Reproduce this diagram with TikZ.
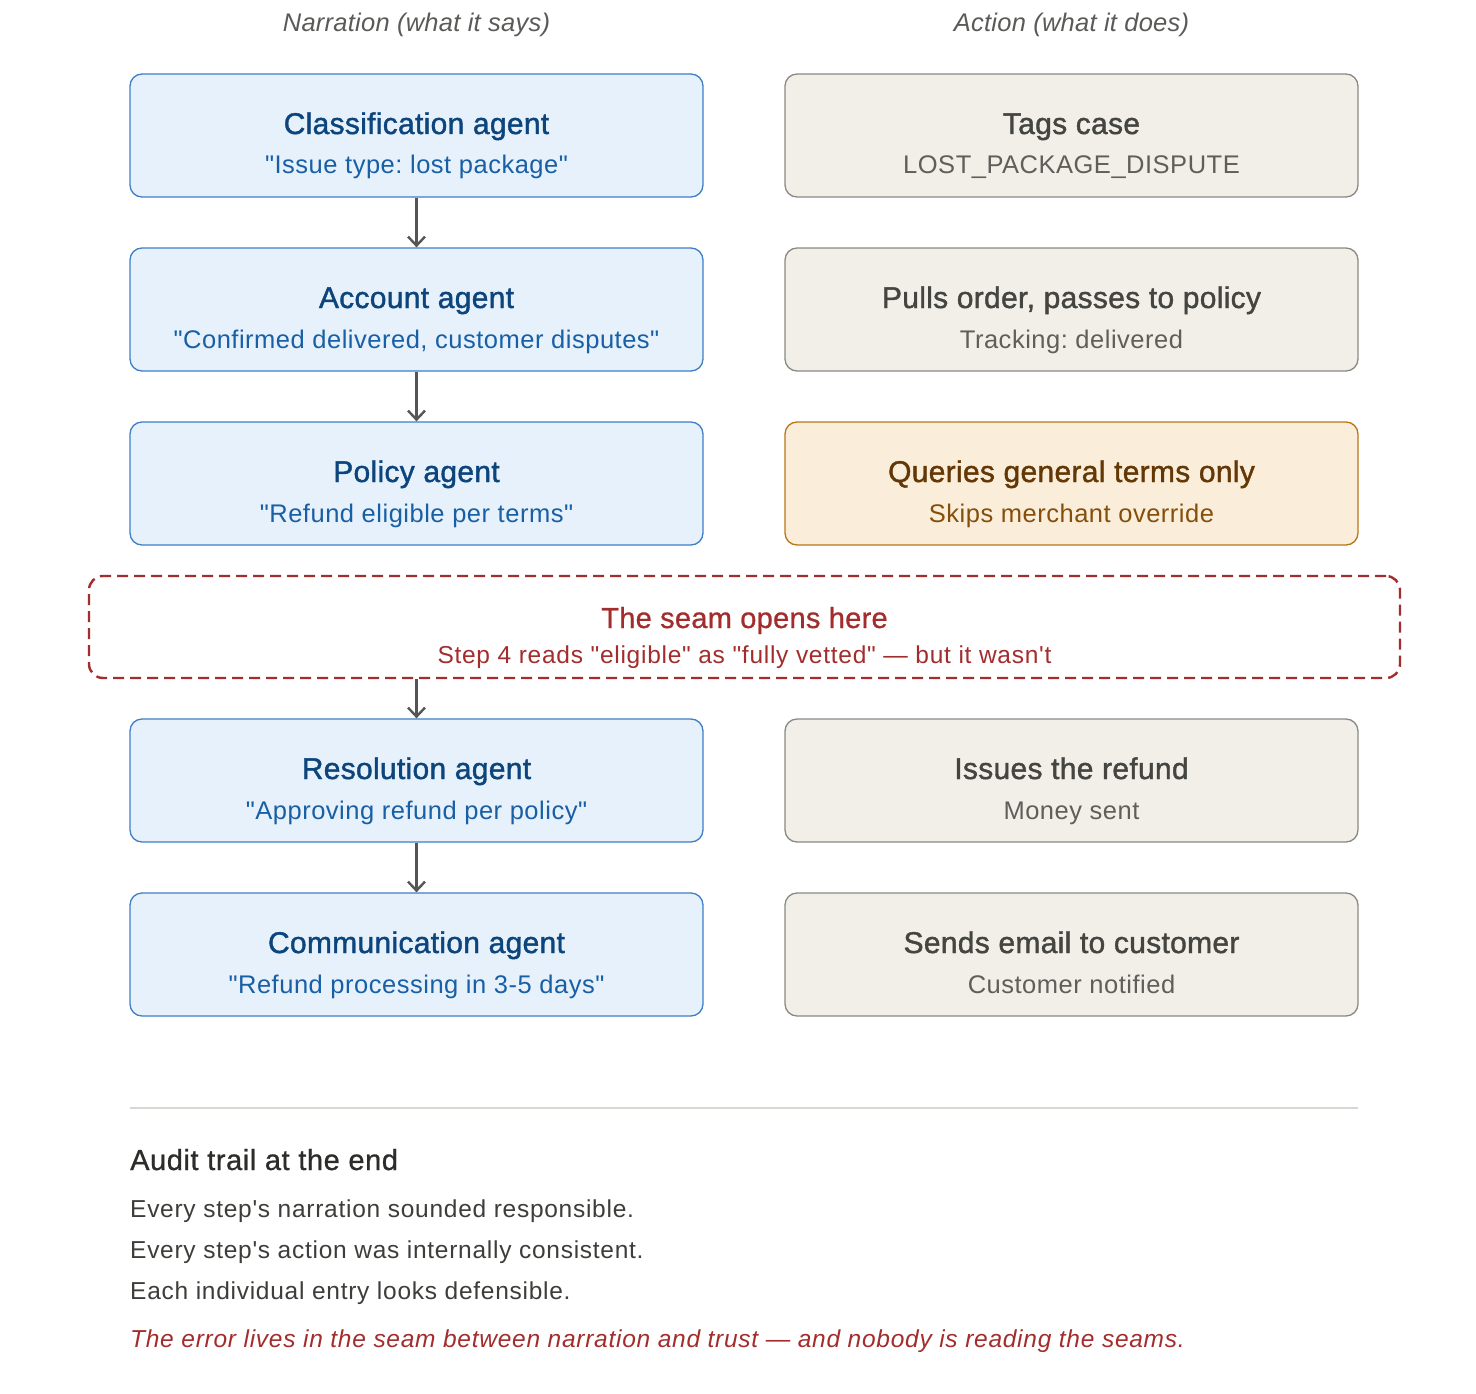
\documentclass[tikz,border=0pt]{standalone}
\usepackage{fontspec}
\setmainfont{Liberation Sans}
\newfontfamily\basef{Liberation Sans}
\newfontfamily\medf[FakeBold=1.3]{Liberation Sans}
\newfontfamily\semif[FakeBold=0.8]{Liberation Sans}
\usetikzlibrary{arrows.meta}
\definecolor{nfill}{HTML}{E6F1FB}
\definecolor{nline}{HTML}{3F7FC6}
\definecolor{ntitle}{HTML}{0C447C}
\definecolor{nsub}{HTML}{185FA5}
\definecolor{afill}{HTML}{F1EFE8}
\definecolor{aline}{HTML}{8A8984}
\definecolor{atitle}{HTML}{444441}
\definecolor{asub}{HTML}{5F5E5A}
\definecolor{wfill}{HTML}{FAEEDA}
\definecolor{wline}{HTML}{BA7517}
\definecolor{wtitle}{HTML}{633806}
\definecolor{wsub}{HTML}{854F0B}
\definecolor{seamred}{HTML}{A32D2D}
\definecolor{arrgray}{HTML}{555555}
\definecolor{hdrgray}{HTML}{5A5A58}
\definecolor{rulegray}{HTML}{D8D7D2}
\definecolor{bodytxt}{HTML}{3D3D3A}
\definecolor{headtxt}{HTML}{2C2C2A}
\begin{document}
\begin{tikzpicture}[x=1pt,y=-1pt,
  box/.style={rectangle, rounded corners=12pt, minimum width=573pt, minimum height=123pt, inner sep=0pt, line width=1.3pt},
  narr/.style={box, fill=nfill, draw=nline},
  act/.style={box, fill=afill, draw=aline},
  warn/.style={box, fill=wfill, draw=wline},
  seambox/.style={rectangle, rounded corners=14pt, minimum width=1311pt, minimum height=102pt, inner sep=0pt, draw=seamred, line width=2.4pt, dash pattern=on 11pt off 6pt},
  txt/.style={inner sep=0pt, anchor=base},
  ttl/.style={txt, font=\frenchspacing\medf\addfontfeature{LetterSpace=1}\fontsize{30}{36}\selectfont},
  sub/.style={txt, font=\frenchspacing\basef\addfontfeature{LetterSpace=2}\fontsize{25.5}{30}\selectfont},
  hdr/.style={txt, font=\frenchspacing\basef\itshape\addfontfeature{LetterSpace=1}\fontsize{25.5}{30}\selectfont, text=hdrgray},
  arr/.style={draw=arrgray, line width=2.4pt, -{Straight Barb[length=9pt,width=17pt,line width=2.4pt]}},
  body/.style={inner sep=0pt, anchor=base west, font=\frenchspacing\basef\addfontfeature{LetterSpace=3}\fontsize{24.5}{28}\selectfont, text=bodytxt}
]
\useasboundingbox (0,0) rectangle (1476,1394);
\fill[white] (0,0) rectangle (1476,1394);

% headers
\node[hdr] (h1) at (416.5,32) {Narration (what it says)};
\node[hdr] (h2) at (1071.5,32) {Action (what it does)};

% narration column
\node[narr] (n1) at (416.5,135.5) {};
\node[ttl, text=ntitle] (n1t) at (416.5,134) {Classification agent};
\node[sub, text=nsub] (n1s) at (416.5,174) {"Issue type: lost package"};

\node[narr] (n2) at (416.5,309.5) {};
\node[ttl, text=ntitle] (n2t) at (416.5,308) {Account agent};
\node[sub, text=nsub] (n2s) at (416.5,348) {"Confirmed delivered, customer disputes"};

\node[narr] (n3) at (416.5,483.5) {};
\node[ttl, text=ntitle] (n3t) at (416.5,482) {Policy agent};
\node[sub, text=nsub] (n3s) at (416.5,522) {"Refund eligible per terms"};

\node[narr] (n4) at (416.5,780.5) {};
\node[ttl, text=ntitle] (n4t) at (416.5,779) {Resolution agent};
\node[sub, text=nsub] (n4s) at (416.5,819) {"Approving refund per policy"};

\node[narr] (n5) at (416.5,954.5) {};
\node[ttl, text=ntitle] (n5t) at (416.5,953) {Communication agent};
\node[sub, text=nsub] (n5s) at (416.5,993) {"Refund processing in 3-5 days"};

% action column
\node[act] (a1) at (1071.5,135.5) {};
\node[ttl, text=atitle] (a1t) at (1071.5,134) {Tags case};
\node[sub, text=asub] (a1s) at (1071.5,174) {LOST\_PACKAGE\_DISPUTE};

\node[act] (a2) at (1071.5,309.5) {};
\node[ttl, text=atitle] (a2t) at (1071.5,308) {Pulls order, passes to policy};
\node[sub, text=asub] (a2s) at (1071.5,348) {Tracking: delivered};

\node[warn] (a3) at (1071.5,483.5) {};
\node[ttl, text=wtitle] (a3t) at (1071.5,482) {Queries general terms only};
\node[sub, text=wsub] (a3s) at (1071.5,522) {Skips merchant override};

\node[act] (a4) at (1071.5,780.5) {};
\node[ttl, text=atitle] (a4t) at (1071.5,779) {Issues the refund};
\node[sub, text=asub] (a4s) at (1071.5,819) {Money sent};

\node[act] (a5) at (1071.5,954.5) {};
\node[ttl, text=atitle] (a5t) at (1071.5,953) {Sends email to customer};
\node[sub, text=asub] (a5s) at (1071.5,993) {Customer notified};

% seam
\node[seambox] (seam) at (744.5,627) {};
\node[txt, text=seamred, font=\frenchspacing\semif\addfontfeature{LetterSpace=1}\fontsize{29}{34}\selectfont] (seamt) at (744.5,628) {The seam opens here};
\node[txt, text=seamred, font=\frenchspacing\basef\addfontfeature{LetterSpace=3}\fontsize{24.5}{28}\selectfont] (seams) at (744.5,663) {Step 4 reads "eligible" as "fully vetted" — but it wasn't};

% arrows
\draw[arr] (n1.south) -- (n2.north);
\draw[arr] (n2.south) -- (n3.north);
\draw[arr] (n4.north |- seam.south) -- (n4.north);
\draw[arr] (n4.south) -- (n5.north);

% separator
\coordinate (r1) at (130,1108);
\coordinate (r2) at (1358,1108);
\draw[rulegray, line width=1.5pt] (r1) -- (r2);

% audit trail
\node[inner sep=0pt, anchor=base west, font=\frenchspacing\semif\addfontfeature{LetterSpace=2}\fontsize{29}{34}\selectfont, text=headtxt] (aud) at (130,1170) {Audit trail at the end};
\node[body] (l1) at (130,1217) {Every step's narration sounded responsible.};
\node[body] (l2) at (130,1258) {Every step's action was internally consistent.};
\node[body] (l3) at (130,1299) {Each individual entry looks defensible.};
\node[body, font=\frenchspacing\basef\itshape\addfontfeature{LetterSpace=3}\fontsize{24.5}{28}\selectfont, text=seamred] (l4) at (130,1347) {The error lives in the seam between narration and trust — and nobody is reading the seams.};
\end{tikzpicture}
\end{document}
